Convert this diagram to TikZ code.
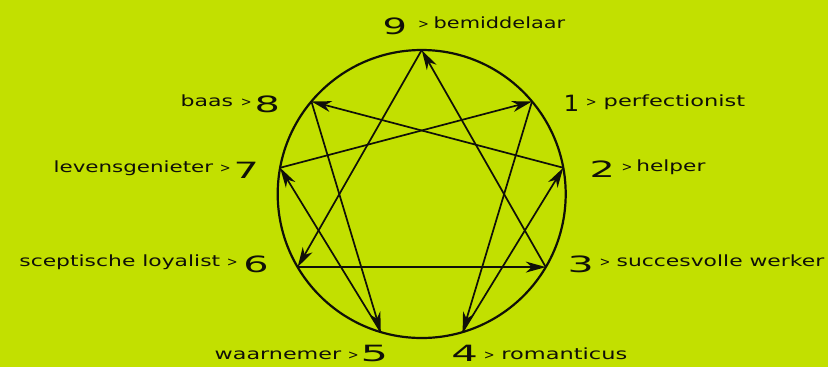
\documentclass[tikz,border=0pt]{standalone}
\usepackage{fontspec}
\usepackage{graphicx}
\usetikzlibrary{arrows.meta}
\setmainfont{DejaVu Sans}
\definecolor{bg}{RGB}{194,224,0}
\definecolor{ink}{RGB}{16,16,8}
\newcommand\fitto[2]{\resizebox{#1bp}{\height}{#2}}
\begin{document}
\begin{tikzpicture}[x=1bp,y=-1bp,
  word/.style={inner sep=0pt, anchor=base west, text=ink, font=\fontsize{15.5}{15.5}\selectfont},
  digit/.style={inner sep=0pt, anchor=base west, text=ink, font=\fontsize{22.5}{22.5}\selectfont},
  gt/.style={inner sep=0pt, anchor=base west, text=ink, font=\fontsize{13}{13}\selectfont},
  ring/.style={draw=ink, line width=2.2bp},
  link/.style={draw=ink, line width=1.7bp, -{Stealth[length=20bp,width=11bp,inset=6bp]}}]
\fill[bg] (0,0) rectangle (828,367);
\useasboundingbox (0,0) rectangle (828,367);
\coordinate (c) at (421.7,194);
\draw[ring] (c) circle[radius=144];
\path (c) ++(-90:144) coordinate (p9);
\path (c) ++(-40:144) coordinate (p1);
\path (c) ++(-10.5:144) coordinate (p2);
\path (c) ++(30.5:144) coordinate (p3);
\path (c) ++(73.5:144) coordinate (p4);
\path (c) ++(106.5:144) coordinate (p5);
\path (c) ++(149.5:144) coordinate (p6);
\path (c) ++(-169.5:144) coordinate (p7);
\path (c) ++(-140:144) coordinate (p8);
% triangle
\draw[link] (p9) -- (p6);
\draw[link] (p6) -- (p3);
\draw[link] (p3) -- (p9);
% hexad
\draw[link] (p1) -- (p4);
\draw[link] (p4) -- (p2);
\draw[link] (p2) -- (p8);
\draw[link] (p8) -- (p5);
\draw[link] (p5) -- (p7);
\draw[link] (p7) -- (p1);
% digits
\node[digit] (n9) at (382.5,34) {\fitto{24.4}{9}};
\node[digit] (n1) at (563.3,111) {\fitto{15.7}{1}};
\node[digit] (n2) at (589.4,177.7) {\fitto{25.3}{2}};
\node[digit] (n3) at (567.3,272.7) {\fitto{26.2}{3}};
\node[digit] (n4) at (451.2,361.3) {\fitto{26.6}{4}};
\node[digit] (n5) at (360.4,361.3) {\fitto{27.5}{5}};
\node[digit] (n6) at (243.1,272.7) {\fitto{25.3}{6}};
\node[digit] (n7) at (233.4,178) {\fitto{25.3}{7}};
\node[digit] (n8) at (254.4,112.3) {\fitto{25.3}{8}};
% arrows >
\node[gt] (g9) at (418,28.3) {>};
\node[gt] (g1) at (585.6,106) {>};
\node[gt] (g2) at (621.3,171.7) {>};
\node[gt] (g3) at (599.3,266.7) {>};
\node[gt] (g4) at (483.6,359.8) {>};
\node[gt] (g5) at (347.6,359.8) {>};
\node[gt] (g6) at (226.6,266.7) {>};
\node[gt] (g7) at (219.6,172.7) {>};
\node[gt] (g8) at (240.6,106) {>};
% words
\node[word] (w9) at (433.5,28.3) {\fitto{131.5}{bemiddelaar}};
\node[word] (w1) at (603.5,106) {\fitto{141.5}{perfectionist}};
\node[word] (w2) at (636.2,171.7) {\fitto{69}{helper}};
\node[word] (w3) at (616.5,266.7) {\fitto{207.5}{succesvolle werker}};
\node[word] (w4) at (501.2,359.8) {\fitto{125.8}{romanticus}};
\node[word] (w5) at (214.5,359.8) {\fitto{126.5}{waarnemer}};
\node[word] (w6) at (19.2,266.7) {\fitto{200.8}{sceptische loyalist}};
\node[word] (w7) at (53.5,172.7) {\fitto{159.5}{levensgenieter}};
\node[word] (w8) at (180.5,106) {\fitto{52.5}{baas}};
\end{tikzpicture}
\end{document}
